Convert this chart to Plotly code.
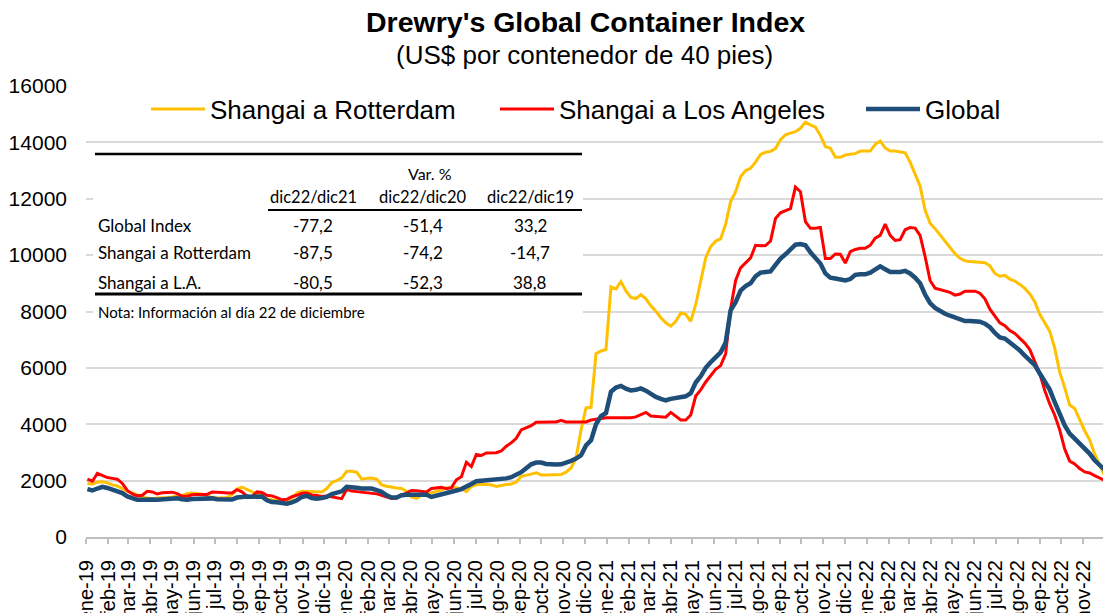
import pandas as pd
import plotly.graph_objects as go

# ---------------- data (weekly, Thursdays, 2019-01-03 .. 2022-12-22) ----------------
start_date = "2019-01-03"

global_idx = [
    1700, 1650, 1720, 1780, 1740, 1680, 1640, 1560, 1440, 1380,
    1320, 1320, 1340, 1330, 1320, 1330, 1350, 1370, 1370, 1340,
    1320, 1350, 1360, 1330, 1360, 1370, 1340, 1350, 1360, 1330,
    1400, 1430, 1440, 1430, 1420, 1440, 1300, 1240, 1230, 1200,
    1180, 1230, 1300, 1420, 1460, 1380, 1360, 1380, 1420, 1520,
    1570, 1620, 1780, 1780, 1750, 1720, 1720, 1720, 1660, 1600,
    1480, 1400, 1400, 1480, 1500, 1500, 1500, 1500, 1500, 1420,
    1460, 1520, 1580, 1610, 1650, 1700, 1810, 1880, 1980, 2000,
    2000, 2000, 2020, 2050, 2080, 2120, 2200, 2300, 2440, 2580,
    2640, 2640, 2590, 2560, 2570, 2580, 2630, 2700, 2780, 2900,
    3250, 3430, 4000, 4290, 4400, 5150, 5300, 5360, 5260, 5200,
    5220, 5270, 5190, 5070, 4970, 4900, 4850, 4900, 4940, 4940,
    4990, 5100, 5480, 5700, 6000, 6200, 6400, 6550, 6900, 8040,
    8330, 8740, 8900, 9000, 9250, 9380, 9400, 9420, 9650, 9880,
    10030, 10200, 10370, 10390, 10350, 10100, 9900, 9700, 9350, 9200,
    9170, 9130, 9100, 9150, 9300, 9320, 9320, 9380, 9480, 9600,
    9500, 9400, 9400, 9400, 9440, 9350, 9200, 9000, 8600, 8300,
    8130, 8000, 7920, 7850, 7780, 7730, 7660, 7660, 7660, 7640,
    7570, 7440, 7240, 7080, 7040, 6900, 6780, 6620, 6430, 6260,
    6100, 5800, 5500, 5230, 4780, 4380, 3960, 3670, 3490, 3320,
    3140, 2960, 2720, 2540, 2360, 2220, 2170, 2140,
]

shanghai_la = [
    2050, 1980, 2260, 2180, 2110, 2080, 2050, 1900, 1650, 1530,
    1460, 1480, 1620, 1600, 1530, 1570, 1590, 1590, 1540, 1450,
    1450, 1500, 1510, 1500, 1510, 1600, 1600, 1580, 1560, 1560,
    1680, 1600, 1450, 1440, 1600, 1580, 1480, 1460, 1400, 1320,
    1340, 1430, 1480, 1550, 1560, 1490, 1470, 1440, 1450, 1420,
    1390, 1360, 1690, 1630, 1610, 1590, 1590, 1560, 1530, 1480,
    1430, 1370, 1380, 1480, 1550, 1650, 1640, 1620, 1600, 1720,
    1740, 1760, 1710, 1750, 2030, 2140, 2650, 2500, 2930, 2890,
    2980, 2980, 2990, 3050, 3220, 3340, 3500, 3800, 3870, 3950,
    4070, 4080, 4080, 4080, 4080, 4140, 4080, 4080, 4080, 4080,
    4080, 4150, 4180, 4200, 4230, 4230, 4230, 4230, 4230, 4230,
    4260, 4340, 4420, 4290, 4280, 4280, 4250, 4420, 4300, 4150,
    4150, 4330, 5000, 5220, 5500, 5740, 5950, 6080, 6500, 8100,
    9100, 9550, 9740, 9900, 10350, 10330, 10340, 10500, 11300, 11500,
    11580, 11650, 12410, 12250, 11190, 10950, 10950, 10980, 9880, 9880,
    10040, 10030, 9720, 10120, 10200, 10240, 10240, 10350, 10600, 10700,
    11100, 10700, 10520, 10550, 10900, 10980, 10960, 10700, 9950, 9100,
    8830, 8780, 8740, 8680, 8580, 8620, 8720, 8730, 8720, 8650,
    8450, 8080, 7820, 7600, 7500, 7320, 7220, 7050, 6880, 6650,
    6250, 5800, 5200, 4720, 4320, 3800, 3120, 2690, 2590, 2430,
    2310, 2270, 2180, 2080, 2010, 1980, 1950, 1930,
]

shanghai_rotterdam = [
    1900, 1880, 1950, 1960, 1920, 1850, 1810, 1700, 1620, 1560,
    1490, 1420, 1380, 1360, 1380, 1380, 1400, 1420, 1450, 1470,
    1540, 1560, 1540, 1520, 1470, 1400, 1380, 1390, 1400, 1500,
    1700, 1770, 1680, 1580, 1520, 1480, 1360, 1320, 1290, 1230,
    1250, 1380, 1560, 1620, 1620, 1610, 1600, 1600, 1720, 1930,
    2000, 2100, 2330, 2330, 2300, 2050, 2080, 2090, 2050, 1850,
    1800, 1760, 1740, 1720, 1620, 1420, 1370, 1480, 1520, 1560,
    1600, 1660, 1750, 1760, 1750, 1710, 1610, 1790, 1850, 1870,
    1870, 1850, 1790, 1830, 1860, 1880, 1950, 2150, 2180, 2230,
    2280, 2200, 2200, 2200, 2200, 2220, 2300, 2450, 2800, 3800,
    4580, 4600, 6500, 6600, 6650, 8870, 8800, 9060, 8730, 8500,
    8460, 8600, 8450, 8200, 8010, 7780, 7600, 7480, 7650, 7950,
    7900, 7650, 8250, 9100, 9900, 10300, 10500, 10580, 11100, 11900,
    12250, 12780, 13000, 13080, 13300, 13570, 13650, 13680, 13780, 14100,
    14270, 14330, 14380, 14500, 14720, 14620, 14540, 14250, 13850, 13790,
    13480, 13470, 13550, 13580, 13600, 13690, 13690, 13690, 13930, 14050,
    13800, 13690, 13690, 13650, 13630, 13300, 12870, 12450, 11600, 11130,
    10940, 10720, 10490, 10250, 10050, 9890, 9800, 9770, 9760, 9730,
    9730, 9620, 9350, 9250, 9280, 9150, 9080, 8960, 8820, 8620,
    8350, 7900, 7610, 7300, 6700, 5850, 5300, 4680, 4560, 4150,
    3770, 3450, 2950, 2560, 2180, 1950, 1750, 1650,
]

month_abbr = ["ene", "feb", "mar", "abr", "may", "jun",
              "jul", "ago", "sep", "oct", "nov", "dic"]
years = ["19", "20", "21", "22"]

series_names = ["Shangai a Rotterdam", "Shangai a Los Angeles", "Global"]
series_colors = ["#FFC000", "#FF0000", "#1F4E79"]

# summary table
table_title = "Var. %"
table_cols = ["dic22/dic21", "dic22/dic20", "dic22/dic19"]
table_rows = ["Global Index", "Shangai a Rotterdam", "Shangai a L.A."]
table_vals = [
    [-77.2, -51.4, 33.2],
    [-87.5, -74.2, -14.7],
    [-80.5, -52.3, 38.8],
]
table_note = "Nota: Información al día 22 de diciembre"

title_text = "Drewry's Global Container Index"
subtitle_text = "(US$ por contenedor de 40 pies)"

# ---------------- figure ----------------
dates = pd.date_range(start_date, periods=len(global_idx), freq="7D")
tick_vals = pd.date_range("2019-01-01", periods=len(years) * 12, freq="MS")
tick_text = [f"{m}-{y}" for y in years for m in month_abbr]

OFF = 8                      # page body margin of the html page
W, H = 1111 - OFF, 613 - OFF
ML, MR, MT, MB = 86 - OFF, 0, 86 - OFF, 76
PW, PH = W - ML - MR, H - MT - MB


def px(x_page):
    return (x_page - OFF - ML) / PW


def py(y_page):
    return (H - MB - (y_page - OFF)) / PH


fig = go.Figure()
legend_widths = [280, 297, 80]
for name, vals, color, width, lw in zip(series_names,
                                        [shanghai_rotterdam, shanghai_la, global_idx],
                                        series_colors, [3, 3, 4.5], legend_widths):
    fig.add_trace(go.Scatter(x=dates, y=vals, mode="lines", name=name,
                             line=dict(color=color, width=width), legendwidth=lw))

FONT = "Liberation Sans, Arial, sans-serif"
TFONT = "Lato, Carlito, Calibri, sans-serif"

annotations = [
    dict(text=f"<b>{title_text}</b>", x=px(585), y=py(22), xref="paper", yref="paper",
         showarrow=False, font=dict(size=28.5, color="black", family=FONT),
         xanchor="center", yanchor="middle"),
    dict(text=subtitle_text, x=px(584), y=py(55), xref="paper", yref="paper",
         showarrow=False, font=dict(size=26, color="black", family=FONT),
         xanchor="center", yanchor="middle"),
]

col_x = [313, 423, 530]
row_y = [225, 253, 282]
annotations.append(dict(text=table_title, x=px(430), y=py(173), xref="paper", yref="paper",
                        showarrow=False, font=dict(size=16, color="black", family=TFONT),
                        xanchor="center", yanchor="middle"))
for cx, c in zip(col_x, table_cols):
    annotations.append(dict(text=c, x=px(cx), y=py(197), xref="paper", yref="paper",
                            showarrow=False, font=dict(size=16.5, color="black", family=TFONT),
                            xanchor="center", yanchor="middle"))
for ry, rname, rvals in zip(row_y, table_rows, table_vals):
    annotations.append(dict(text=rname, x=px(96), y=py(ry), xref="paper", yref="paper",
                            showarrow=False, font=dict(size=17, color="black", family=TFONT),
                            xanchor="left", yanchor="middle"))
    for cx, v in zip(col_x, rvals):
        annotations.append(dict(text=f"{v:.1f}".replace(".", ","), x=px(cx), y=py(ry),
                                xref="paper", yref="paper", showarrow=False,
                                font=dict(size=17, color="black", family=TFONT),
                                xanchor="center", yanchor="middle"))
annotations.append(dict(text=table_note, x=px(96), y=py(312), xref="paper", yref="paper",
                        showarrow=False, font=dict(size=15, color="black", family=TFONT),
                        xanchor="left", yanchor="middle"))

shapes = [
    dict(type="rect", xref="paper", yref="paper", x0=px(93), x1=px(583), y0=py(148), y1=py(324),
         fillcolor="white", line=dict(width=0), layer="above"),
    dict(type="line", xref="paper", yref="paper", x0=px(95), x1=px(582), y0=py(154), y1=py(154),
         line=dict(color="black", width=2.5), layer="above"),
    dict(type="line", xref="paper", yref="paper", x0=px(268), x1=px(582), y0=py(210), y1=py(210),
         line=dict(color="black", width=2), layer="above"),
    dict(type="line", xref="paper", yref="paper", x0=px(95), x1=px(582), y0=py(294), y1=py(294),
         line=dict(color="black", width=3), layer="above"),
]

fig.update_layout(
    width=W, height=H,
    margin=dict(l=ML, r=MR, t=MT, b=MB, pad=0, autoexpand=False),
    paper_bgcolor="white", plot_bgcolor="white",
    font=dict(family=FONT, color="black"),
    showlegend=True,
    legend=dict(orientation="h", x=px(146), y=py(109), xanchor="left", yanchor="middle",
                bgcolor="rgba(0,0,0,0)", font=dict(size=26, family=FONT, color="black"),
                itemwidth=54, tracegroupgap=0),
    annotations=annotations,
    shapes=shapes,
    xaxis=dict(type="date", range=["2019-01-01", "2022-12-10"], automargin=False,
               tickmode="array", tickvals=tick_vals, ticktext=tick_text,
               tickangle=-90, tickfont=dict(size=20, color="black"),
               ticks="outside", ticklen=5, tickcolor="#bfbfbf", tickwidth=1.5,
               showline=True, linecolor="#bfbfbf", linewidth=2,
               showgrid=False, zeroline=False, ticklabelstandoff=8),
    yaxis=dict(range=[0, 16000], dtick=2000, tick0=0, tickformat="d", automargin=False,
               tickfont=dict(size=21, color="black"),
               showgrid=True, gridcolor="#d9d9d9", gridwidth=2,
               showline=False, zeroline=False, ticks="", ticklabelstandoff=18),
)

fig.write_html("out.html")
